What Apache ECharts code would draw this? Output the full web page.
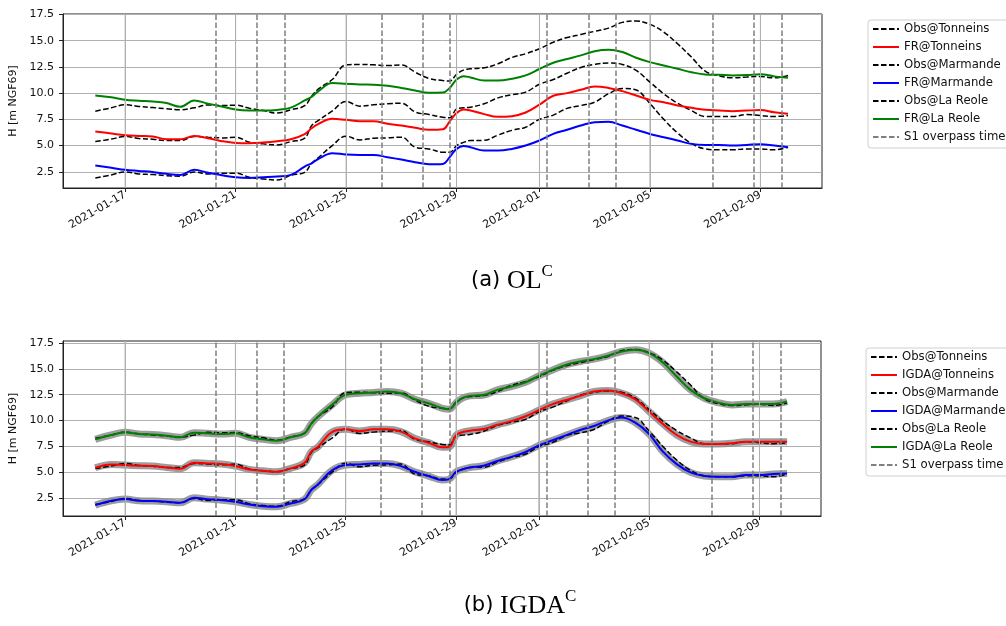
<!DOCTYPE html>
<html>
<head>
<meta charset="utf-8">
<script src="https://cdn.jsdelivr.net/npm/echarts@6/dist/echarts.min.js"></script>
<style>
  html, body { margin: 0; padding: 0; background: #fff; }
  #chart { width: 1006px; height: 626px; }
</style>
</head>
<body>
<div id="chart"></div>
<script>
// time in days since 2021-01-01 00:00
const times = [
  14.92, 15.5, 16, 16.5, 17, 17.5, 18, 18.5, 19, 19.5,
  20, 20.5, 21, 21.5, 22, 22.5, 22.75, 23, 23.5,
  24, 24.5, 25, 25.5, 26, 26.5, 27, 27.5, 27.75, 28, 28.25,
  28.5, 29, 29.5, 30, 30.5, 31, 31.5, 32, 32.5,
  33, 33.5, 34, 34.5, 35, 35.5, 36, 36.5,
  37, 37.5, 38, 38.5, 39, 39.5, 40
];

const obsTonneins = [
  5.38, 5.62, 5.86, 5.67, 5.6, 5.48, 5.48, 5.86, 5.8, 5.73,
  5.8, 5.32, 5.16, 5.06, 5.38, 5.7, 6.9, 7.4, 8.3,
  9.2, 8.76, 8.89, 8.98, 9.04, 8.2, 7.96, 7.7, 7.65, 8.5, 8.6,
  8.66, 8.98, 9.55, 9.85, 10.1, 10.85, 11.3, 11.9, 12.45,
  12.74, 12.87, 12.74, 12.17, 11.05, 9.94, 9.04, 8.34,
  7.77, 7.77, 7.77, 7.96, 7.87, 7.77, 7.87
];
const frTonneins = [
  6.34, 6.15, 5.99, 5.92, 5.86, 5.6, 5.6, 5.92, 5.7, 5.42,
  5.25, 5.22, 5.29, 5.41, 5.6, 6.1, 6.65, 7.07, 7.55,
  7.45, 7.32, 7.32, 7.07, 6.91, 6.69, 6.5, 6.55, 7.3, 8.1, 8.45,
  8.35, 8.0, 7.75, 7.8, 8.15, 8.9, 9.75, 10.0, 10.32,
  10.64, 10.5, 10.19, 9.78, 9.36, 9.14, 8.82, 8.6,
  8.41, 8.34, 8.28, 8.34, 8.38, 8.18, 8.03
];
const obsMarmande = [
  1.91, 2.2, 2.48, 2.29, 2.23, 2.13, 2.07, 2.48, 2.29, 2.36,
  2.36, 1.97, 1.81, 1.72, 2.17, 2.45, 3.3, 3.85, 5.0,
  5.89, 5.54, 5.7, 5.73, 5.8, 4.84, 4.68, 4.36, 4.35, 5.0, 5.3,
  5.48, 5.5, 6.0, 6.45, 6.75, 7.5, 7.9, 8.55, 8.82,
  9.14, 9.94, 10.45, 10.3, 9.0, 7.5, 6.2, 5.2,
  4.68, 4.59, 4.59, 4.68, 4.68, 4.59, 4.84
];
const frMarmande = [
  3.09, 2.88, 2.68, 2.58, 2.48, 2.3, 2.2, 2.68, 2.4, 2.17,
  1.97, 1.91, 1.97, 2.04, 2.2, 3.0, 3.3, 3.73, 4.27,
  4.15, 4.11, 4.11, 3.89, 3.66, 3.41, 3.22, 3.25, 3.89, 4.68, 4.95,
  4.84, 4.52, 4.52, 4.68, 5.0, 5.48, 6.11, 6.5, 6.91,
  7.23, 7.27, 6.91, 6.5, 6.11, 5.8, 5.48, 5.16,
  5.06, 5.06, 5.0, 5.06, 5.13, 5.0, 4.84
];
const obsLaReole = [
  8.28, 8.6, 8.89, 8.73, 8.62, 8.52, 8.42, 8.6, 8.87, 8.82,
  8.85, 8.55, 8.34, 8.1, 8.42, 8.8, 9.7, 10.4, 11.3,
  12.7, 12.74, 12.7, 12.64, 12.68, 12.0, 11.4, 11.2, 11.15, 11.8, 12.2,
  12.32, 12.42, 12.8, 13.4, 13.76, 14.24, 14.85, 15.3, 15.6,
  15.9, 16.2, 16.75, 16.88, 16.56, 15.83, 14.71, 13.44,
  12.1, 11.66, 11.46, 11.53, 11.59, 11.46, 11.69
];
const frLaReole = [
  9.78, 9.6, 9.36, 9.27, 9.2, 9.05, 8.7, 9.3, 9.0, 8.73,
  8.45, 8.35, 8.34, 8.4, 8.62, 9.3, 9.65, 10.2, 10.96,
  10.9, 10.83, 10.8, 10.7, 10.5, 10.25, 10.03, 10.05, 10.5, 11.3, 11.62,
  11.5, 11.2, 11.2, 11.37, 11.69, 12.3, 12.9, 13.25, 13.6,
  14.0, 14.14, 13.92, 13.38, 12.96, 12.64, 12.32, 12.0,
  11.78, 11.75, 11.69, 11.72, 11.8, 11.6, 11.46
];
const igdaTonneins = [
  5.45, 5.77, 5.71, 5.65, 5.61, 5.48, 5.35, 5.94, 5.87, 5.81,
  5.61, 5.29, 5.16, 5.06, 5.39, 5.9, 7.0, 7.48, 8.9,
  9.16, 9.0, 9.16, 9.16, 8.94, 8.29, 7.87, 7.42, 7.45, 8.6, 8.9,
  9.03, 9.2, 9.6, 9.95, 10.4, 11.0, 11.6, 12.0, 12.39,
  12.81, 12.9, 12.65, 12.06, 10.87, 9.68, 8.61, 7.97,
  7.74, 7.74, 7.81, 7.97, 7.97, 7.97, 7.97
];
const igdaMarmande = [
  1.84, 2.26, 2.42, 2.26, 2.23, 2.16, 2.06, 2.55, 2.42, 2.32,
  2.16, 1.9, 1.74, 1.68, 2.0, 2.39, 3.3, 3.85, 5.2,
  5.71, 5.77, 5.87, 5.87, 5.61, 5.06, 4.65, 4.26, 4.35, 5.06, 5.3,
  5.48, 5.65, 6.1, 6.5, 6.95, 7.6, 8.1, 8.6, 9.1,
  9.48, 10.0, 10.3, 9.8, 8.7, 7.0, 5.8, 5.0,
  4.65, 4.58, 4.58, 4.74, 4.74, 4.84, 4.9
];
const igdaLaReole = [
  8.19, 8.61, 8.87, 8.71, 8.65, 8.55, 8.39, 8.84, 8.77, 8.71,
  8.77, 8.39, 8.19, 8.06, 8.39, 8.77, 9.7, 10.4, 11.52,
  12.5, 12.65, 12.71, 12.81, 12.65, 12.06, 11.68, 11.19, 11.1, 11.74, 12.2,
  12.39, 12.48, 12.97, 13.29, 13.68, 14.32, 14.9, 15.4, 15.71,
  15.94, 16.26, 16.68, 16.84, 16.52, 15.61, 14.26, 12.97,
  12.16, 11.74, 11.52, 11.61, 11.61, 11.61, 11.84
];

// Sentinel-1 overpass times
const s1Times = [19.28, 20.77, 21.77, 25.28, 26.77, 27.77, 31.28, 32.77, 33.77, 37.28, 38.77, 39.77];

const xTickValues = [16, 20, 24, 28, 31, 35, 39];
const xTickLabels = ['2021-01-17', '2021-01-21', '2021-01-25', '2021-01-29', '2021-02-01', '2021-02-05', '2021-02-09'];
const yTickValues = [2.5, 5, 7.5, 10, 12.5, 15, 17.5];
const yTickLabels = ['2.5', '5.0', '7.5', '10.0', '12.5', '15.0', '17.5'];

const FONT = 'DejaVu Sans';
const DASH = [5.5, 2.5];
const X_RANGE = [13.75, 41.23];
const Y_RANGES = [[0.95, 17.55], [0.79, 17.69]];
const GRID_STYLE = { color: '#b0b0b0', width: 1, type: 'solid' };

function pairs(values) {
  return times.map((t, i) => [t, values[i]]);
}

function lineSeries(name, values, gi, color, dashed, width, z) {
  return {
    name: name,
    type: 'line',
    xAxisIndex: gi,
    yAxisIndex: gi,
    data: pairs(values),
    symbol: 'none',
    smooth: 0.4,
    z: z,
    silent: true,
    lineStyle: { color: color, width: width, type: dashed ? DASH : 'solid' },
    itemStyle: { color: color },
  };
}

function bandSeries(values, gi) {
  return {
    name: 'ens',
    type: 'line',
    xAxisIndex: gi,
    yAxisIndex: gi,
    data: pairs(values),
    symbol: 'none',
    smooth: 0.4,
    z: 1,
    silent: true,
    lineStyle: { color: '#8c8c8c', width: 7, opacity: 0.85 },
  };
}

// one vertical grid line per date tick, spanning the y range of the panel
function gridSeries(gi) {
  const [lo, hi] = Y_RANGES[gi];
  return xTickValues.map((t) => ({
    name: 'date grid',
    type: 'line',
    xAxisIndex: gi,
    yAxisIndex: gi,
    data: [[t, lo], [t, hi]],
    symbol: 'none',
    z: 1,
    silent: true,
    lineStyle: GRID_STYLE,
  }));
}

// S1 overpass lines; the date grid lines ride along as extra markLine items
function s1Series(gi) {
  const gridItems = xTickValues.map((t) => ({ xAxis: t, lineStyle: GRID_STYLE }));
  const s1Items = s1Times.map((t) => ({ xAxis: t }));
  return {
    name: 'S1 overpass time',
    type: 'line',
    xAxisIndex: gi,
    yAxisIndex: gi,
    data: [],
    symbol: 'none',
    z: 4,
    lineStyle: { color: '#7f7f7f', width: 1.5, type: DASH },
    itemStyle: { color: '#7f7f7f' },
    markLine: {
      silent: true,
      symbol: 'none',
      animation: false,
      label: { show: false },
      lineStyle: { color: '#7f7f7f', width: 1.5, type: DASH },
      data: gridItems.concat(s1Items),
    },
  };
}

function xAxisCfg(gi) {
  return {
    type: 'value',
    gridIndex: gi,
    min: X_RANGE[0],
    max: X_RANGE[1],
    axisLine: { show: true, lineStyle: { color: '#222', width: 1 } },
    axisTick: { show: true, length: 4, customValues: xTickValues, lineStyle: { color: '#222', width: 1 } },
    axisLabel: {
      customValues: xTickValues,
      rotate: 30,
      margin: 6,
      fontSize: 11,
      fontFamily: FONT,
      color: '#111',
      formatter: (v) => xTickLabels[xTickValues.indexOf(v)] || '',
    },
    splitLine: { show: false },
  };
}

function yAxisCfg(gi) {
  return {
    type: 'value',
    gridIndex: gi,
    min: Y_RANGES[gi][0],
    max: Y_RANGES[gi][1],
    name: 'H [m NGF69]',
    nameLocation: 'middle',
    nameGap: 40,
    nameRotate: 90,
    nameTextStyle: { fontSize: 11, fontFamily: FONT, color: '#111' },
    axisLine: { show: true, lineStyle: { color: '#222', width: 1 } },
    axisTick: { show: true, length: 4, customValues: yTickValues, lineStyle: { color: '#222', width: 1 } },
    axisLabel: {
      customValues: yTickValues,
      margin: 9,
      fontSize: 11,
      fontFamily: FONT,
      color: '#111',
      formatter: (v) => yTickLabels[yTickValues.indexOf(v)] || '',
    },
    splitLine: { show: true, lineStyle: { color: '#b0b0b0', width: 1 } },
  };
}

function legendCfg(top, left, names) {
  return {
    orient: 'vertical',
    top: top,
    left: left,
    data: names,
    selectedMode: false,
    backgroundColor: '#fff',
    borderColor: '#d0d0d0',
    borderWidth: 1,
    borderRadius: 3,
    padding: [3, 6, 5, 4],
    itemGap: 6,
    itemWidth: 26,
    itemHeight: 12,
    itemStyle: { opacity: 0 },
    textStyle: { fontSize: 11.7, fontFamily: FONT, color: '#111', lineHeight: 12 },
  };
}

function caption(x, y, label, name) {
  return {
    type: 'text',
    x: x,
    y: y,
    silent: true,
    style: {
      text: '{a|' + label + ' }{b|' + name + '}{c|C}',
      align: 'center',
      verticalAlign: 'middle',
      rich: {
        a: { fontFamily: FONT, fontSize: 21, fill: '#000' },
        b: { fontFamily: 'Liberation Serif', fontSize: 26, fill: '#000' },
        c: { fontFamily: 'Liberation Serif', fontSize: 17, fill: '#000', padding: [0, 0, 18, 0] },
      },
    },
  };
}

const chart = echarts.init(document.getElementById('chart'), null, { renderer: 'canvas' });

chart.setOption({
  animation: false,
  backgroundColor: '#fff',
  grid: [
    { left: 63, right: 184, top: 14, height: 174, show: true, borderColor: '#222', borderWidth: 1, backgroundColor: 'transparent', outerBoundsMode: 'none' },
    { left: 63, right: 185, top: 341, height: 175, show: true, borderColor: '#222', borderWidth: 1, backgroundColor: 'transparent', outerBoundsMode: 'none' },
  ],
  xAxis: [xAxisCfg(0), xAxisCfg(1)],
  yAxis: [yAxisCfg(0), yAxisCfg(1)],
  legend: [
    legendCfg(20, 868, ['Obs@Tonneins', 'FR@Tonneins', 'Obs@Marmande', 'FR@Marmande', 'Obs@La Reole', 'FR@La Reole', 'S1 overpass time']),
    legendCfg(348, 866, ['Obs@Tonneins', 'IGDA@Tonneins', 'Obs@Marmande', 'IGDA@Marmande', 'Obs@La Reole', 'IGDA@La Reole', 'S1 overpass time']),
  ],
  graphic: [
    caption(512, 281, '(a)', 'OL'),
    caption(520, 606, '(b)', 'IGDA'),
  ],
  series: [
    ...gridSeries(0),
    lineSeries('Obs@Tonneins', obsTonneins, 0, '#000', true, 1.5, 2),
    lineSeries('FR@Tonneins', frTonneins, 0, '#ff0000', false, 2, 3),
    lineSeries('Obs@Marmande', obsMarmande, 0, '#000', true, 1.5, 2),
    lineSeries('FR@Marmande', frMarmande, 0, '#0000ff', false, 2, 3),
    lineSeries('Obs@La Reole', obsLaReole, 0, '#000', true, 1.5, 2),
    lineSeries('FR@La Reole', frLaReole, 0, '#008000', false, 2, 3),
    s1Series(0),

    ...gridSeries(1),
    bandSeries(igdaTonneins, 1),
    bandSeries(igdaMarmande, 1),
    bandSeries(igdaLaReole, 1),
    lineSeries('Obs@Tonneins', obsTonneins, 1, '#000', true, 1.5, 2),
    lineSeries('IGDA@Tonneins', igdaTonneins, 1, '#ff0000', false, 2, 3),
    lineSeries('Obs@Marmande', obsMarmande, 1, '#000', true, 1.5, 2),
    lineSeries('IGDA@Marmande', igdaMarmande, 1, '#0000ff', false, 2, 3),
    lineSeries('Obs@La Reole', obsLaReole, 1, '#000', true, 1.5, 2),
    lineSeries('IGDA@La Reole', igdaLaReole, 1, '#008000', false, 2, 3),
    s1Series(1),
  ],
});
</script>
</body>
</html>
